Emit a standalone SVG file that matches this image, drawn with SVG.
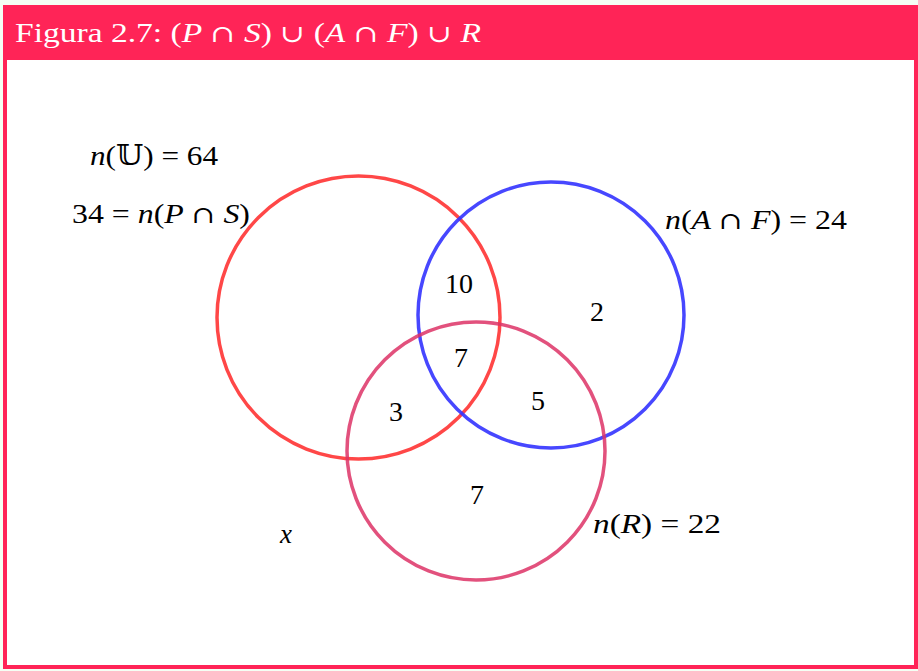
<svg xmlns="http://www.w3.org/2000/svg" width="918" height="671" viewBox="0 0 918 671">
<style>
text{font-family:"Liberation Serif","DejaVu Serif",serif;font-size:27px;fill:#000}
.i{font-style:italic}
.s{font-family:"DejaVu Serif",serif;font-size:24px}
.t{fill:#fff;font-size:27px}
.c{fill:none;stroke-width:3.5}
#regions text{font-size:28px}
</style>
<rect x="0" y="0" width="918" height="671" fill="#F4FFF4"/>
<rect x="5" y="7" width="911" height="660" fill="#fff" stroke="#FF2457" stroke-width="4"/>
<rect x="3" y="5" width="915" height="55" fill="#FF2457"/>
<text class="t" x="15" y="42" textLength="466" lengthAdjust="spacingAndGlyphs">Figura 2.7: (<tspan class="i">P</tspan> <tspan class="s">∩</tspan> <tspan class="i">S</tspan>) <tspan class="s">∪</tspan> (<tspan class="i">A</tspan> <tspan class="s">∩</tspan> <tspan class="i">F</tspan>) <tspan class="s">∪</tspan> <tspan class="i">R</tspan></text>
<g id="connectors"></g>
<g id="circleP"><circle class="c" cx="358.5" cy="317.5" r="141.5" stroke="#FF3333" stroke-opacity="0.9"/></g>
<g id="circleA"><circle class="c" cx="551" cy="315" r="133" stroke="#3333FF" stroke-opacity="0.9"/></g>
<g id="circleR"><circle class="c" cx="476" cy="451" r="129" stroke="#DD3366" stroke-opacity="0.85"/></g>
<g id="labels">
<text x="90" y="165" textLength="128" lengthAdjust="spacingAndGlyphs"><tspan class="i">n</tspan>(𝕌) = 64</text>
<text x="72" y="223" textLength="178" lengthAdjust="spacingAndGlyphs">34 = <tspan class="i">n</tspan>(<tspan class="i">P</tspan> <tspan class="s">∩</tspan> <tspan class="i">S</tspan>)</text>
<text x="665" y="229" textLength="182" lengthAdjust="spacingAndGlyphs"><tspan class="i">n</tspan>(<tspan class="i">A</tspan> <tspan class="s">∩</tspan> <tspan class="i">F</tspan>) = 24</text>
<text x="593" y="533" textLength="128" lengthAdjust="spacingAndGlyphs"><tspan class="i">n</tspan>(<tspan class="i">R</tspan>) = 22</text>
<text class="i" x="286" y="543" text-anchor="middle">x</text>
</g>
<g id="regions" text-anchor="middle">
<text x="459" y="293">10</text>
<text x="597" y="321">2</text>
<text x="461" y="367">7</text>
<text x="396" y="421">3</text>
<text x="538" y="410">5</text>
<text x="477" y="504">7</text>
</g>
</svg>
